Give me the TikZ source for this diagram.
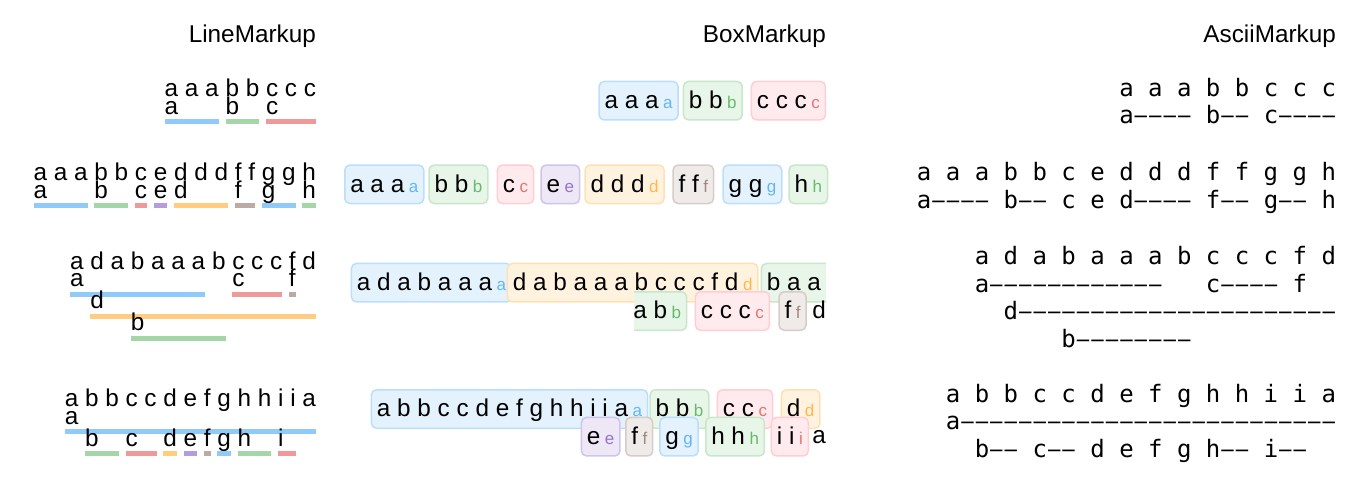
\documentclass[tikz,border=0pt]{standalone}
\usepackage{fontspec}
\setmainfont{Liberation Sans}
\setmonofont{DejaVu Sans Mono}
\usetikzlibrary{positioning}

% material palette: bar, box fill, box line, label ink
\definecolor{barblue}{HTML}{90CAF9}\definecolor{fillblue}{HTML}{E3F2FD}
\definecolor{lineblue}{HTML}{BBDEFB}\definecolor{inkblue}{HTML}{64B5F6}
\definecolor{bargreen}{HTML}{A5D6A7}\definecolor{fillgreen}{HTML}{E8F5E9}
\definecolor{linegreen}{HTML}{C8E6C9}\definecolor{inkgreen}{HTML}{66BB6A}
\definecolor{barred}{HTML}{EF9A9A}\definecolor{fillred}{HTML}{FFEBEE}
\definecolor{linered}{HTML}{FFCDD2}\definecolor{inkred}{HTML}{E57373}
\definecolor{barpurple}{HTML}{B39DDB}\definecolor{fillpurple}{HTML}{EDE7F6}
\definecolor{linepurple}{HTML}{D1C4E9}\definecolor{inkpurple}{HTML}{9575CD}
\definecolor{barorange}{HTML}{FFCC80}\definecolor{fillorange}{HTML}{FFF3E0}
\definecolor{lineorange}{HTML}{FFE0B2}\definecolor{inkorange}{HTML}{FFB74D}
\definecolor{barbrown}{HTML}{BCAAA4}\definecolor{fillbrown}{HTML}{EFEBE9}
\definecolor{linebrown}{HTML}{D7CCC8}\definecolor{inkbrown}{HTML}{A1887F}

\newcommand{\markfont}{\fontsize{24.3}{29}\selectfont}
\newcommand{\lblfont}{\fontsize{17}{20}\selectfont}
\newcommand{\asciifont}{\ttfamily\fontsize{24}{29}\selectfont}

\tikzset{
  linetxt/.style={font=\markfont, inner sep=0pt, outer sep=0pt},
  titletxt/.style={font=\markfont, inner sep=0pt, anchor=base east},
  asciitxt/.style={font=\asciifont, inner sep=0pt, outer sep=0pt},
  markbox/.style={draw=line#1, fill=fill#1, line width=1.5pt, rounded corners=5pt,
    font=\markfont, inner xsep=5.5pt, inner ysep=8pt, text height=19pt, text depth=3.5pt}
}

% one row of characters, right aligned at x=316
\newcommand{\linerow}[4]{%
  \node[linetxt, anchor=base east] (#1) at (316,#2) {\phantom{#3}};
  \foreach \ch [count=\k from 0] in {#4} {
    \ifnum\k=0
      \node[linetxt, anchor=base west] (#1-\k) at (#1.base west) {\ch};
    \else
      \pgfmathtruncatemacro{\kp}{\k-1}
      \node[linetxt, base right=6.75pt of #1-\kp] (#1-\k) {\ch};
    \fi
  }
}
% row, level, first char, last char, label, colour
\newcommand{\linemark}[6]{%
  \fill[bar#6] ([yshift={-22.5pt-22pt*#2}]#1-#3.base west) rectangle ([yshift={-27.5pt-22pt*#2}]#1-#4.base east);
  \node[linetxt, anchor=base west] (#1#5) at ([yshift={-17.5pt-22pt*#2}]#1-#3.base west) {#5};
}
% name, anchor, position, colour, text, label
\newcommand{\markbox}[6]{%
  \node[markbox=#4, anchor=#2] (#1) at (#3) {#5\hspace{4.5pt}{\lblfont\color{ink#4}#6}};
}
% dash run in the mono font, one cell per dash
\newcommand{\dashes}[1]{\foreach \n in {1,...,#1}{\makebox[\fontcharwd\font"2D]{\scalebox{0.86}[1]{–}}}}

\begin{document}
\begin{tikzpicture}[x=1pt, y=-1pt]
\useasboundingbox (0,0) rectangle (1366,488);

% Titles
\node[titletxt] (tline) at (316,42) {LineMarkup};
\node[titletxt] (tbox) at (826,42) {BoxMarkup};
\node[titletxt] (tascii) at (1336,42) {AsciiMarkup};

% LineMarkup
\linerow{l1}{96.5}{a a a b b c c c}{a,a,a,b,b,c,c,c}
\foreach \lv/\i/\j/\lb/\col in {0/0/2/a/blue, 0/3/4/b/green, 0/5/7/c/red}
  {\linemark{l1}{\lv}{\i}{\j}{\lb}{\col}}

\linerow{l2}{180.7}{a a a b b c e d d d f f g g h}{a,a,a,b,b,c,e,d,d,d,f,f,g,g,h}
\foreach \lv/\i/\j/\lb/\col in {0/0/2/a/blue, 0/3/4/b/green, 0/5/5/c/red, 0/6/6/e/purple,
    0/7/9/d/orange, 0/10/11/f/brown, 0/12/13/g/blue, 0/14/14/h/green}
  {\linemark{l2}{\lv}{\i}{\j}{\lb}{\col}}

\linerow{l3}{269.3}{a d a b a a a b c c c f d}{a,d,a,b,a,a,a,b,c,c,c,f,d}
\foreach \lv/\i/\j/\lb/\col in {0/0/6/a/blue, 0/8/10/c/red, 0/11/11/f/brown,
    1/1/12/d/orange, 2/3/7/b/green}
  {\linemark{l3}{\lv}{\i}{\j}{\lb}{\col}}

\linerow{l4}{406.7}{a b b c c d e f g h h i i a}{a,b,b,c,c,d,e,f,g,h,h,i,i,a}
\foreach \lv/\i/\j/\lb/\col in {0/0/13/a/blue, 1/1/2/b/green, 1/3/4/c/red, 1/5/5/d/orange,
    1/6/6/e/purple, 1/7/7/f/brown, 1/8/8/g/blue, 1/9/10/h/green, 1/11/12/i/red}
  {\linemark{l4}{\lv}{\i}{\j}{\lb}{\col}}

% BoxMarkup
\foreach \nm/\x/\col/\txt in {a/598.3/blue/{a a a}, b/682.7/green/{b b}, c/750.7/red/{c c c}}
  {\markbox{b1\nm}{north west}{\x,80.7}{\col}{\txt}{\nm}}

\foreach \nm/\x/\col/\txt in {a/344/blue/{a a a}, b/428.3/green/{b b}, c/496.7/red/c,
    e/540.3/purple/e, d/584.3/orange/{d d d}, f/672.3/brown/{f f}, g/722.3/blue/{g g},
    h/788.3/green/h}
  {\markbox{b2\nm}{north west}{\x,164.3}{\col}{\txt}{\nm}}

\markbox{b3a}{north west}{350.7,262.7}{blue}{a d a b a a a}{a}
\markbox{b3d}{north west}{506.7,262.7}{orange}{d a b a a a b c c c f d}{d}
\begin{scope}
  \clip (740,250) rectangle (826,310);
  \markbox{b3b}{north west}{760.7,262.7}{green}{b a a a b}{b}
\end{scope}
\begin{scope}
  \clip (634,285) rectangle (700,335);
  \markbox{b3bb}{north east}{687.3,291}{green}{a b}{b}
\end{scope}
\markbox{b3c}{north west}{694.7,291}{red}{c c c}{c}
\markbox{b3f}{north west}{778.3,291}{brown}{f}{f}
\node[linetxt, anchor=base east] (b3end) at (826,318) {d};

\markbox{b4a}{north west}{370.7,389}{blue}{a b b c c d e f g h h i i a}{a}
\foreach \nm/\x/\col/\txt in {b/649.3/green/{b b}, c/716.7/red/{c c}, d/780.7/orange/d}
  {\markbox{b4\nm}{north west}{\x,389}{\col}{\txt}{\nm}}
\foreach \nm/\x/\col/\txt in {e/580.7/purple/e, f/625/brown/f, g/659/blue/g,
    h/705/green/{h h}, i/770.7/red/{i i}}
  {\markbox{b4\nm}{north west}{\x,416.7}{\col}{\txt}{\nm}}
\node[linetxt, anchor=base east] (b4end) at (826,443.7) {a};

% AsciiMarkup
\node[asciitxt, anchor=base east] (a1) at (1336,96) {a a a b b c c c};
\node[asciitxt, anchor=base west] (a1m) at ([yshift=-27.5pt]a1.base west) {a\dashes{4} b\dashes{2} c\dashes{4}};

\node[asciitxt, anchor=base east] (a2) at (1336,180.5) {a a a b b c e d d d f f g g h};
\node[asciitxt, anchor=base west] (a2m) at ([yshift=-27.5pt]a2.base west) {a\dashes{4} b\dashes{2} c e d\dashes{4} f\dashes{2} g\dashes{2} h};

\node[asciitxt, anchor=base east] (a3) at (1336,264.5) {a d a b a a a b c c c f d};
\node[asciitxt, anchor=base west] (a3m) at ([yshift=-27.5pt]a3.base west) {a\dashes{12}~~~c\dashes{4}~f};
\node[asciitxt, anchor=base west] (a3n) at ([yshift=-55pt]a3.base west) {~~d\dashes{22}};
\node[asciitxt, anchor=base west] (a3o) at ([yshift=-82.5pt]a3.base west) {~~~~~~b\dashes{8}};

\node[asciitxt, anchor=base east] (a4) at (1336,402) {a b b c c d e f g h h i i a};
\node[asciitxt, anchor=base west] (a4m) at ([yshift=-27.5pt]a4.base west) {a\dashes{26}};
\node[asciitxt, anchor=base west] (a4n) at ([yshift=-55pt]a4.base west) {~~b\dashes{2} c\dashes{2} d e f g h\dashes{2} i\dashes{2}};
\end{tikzpicture}
\end{document}
